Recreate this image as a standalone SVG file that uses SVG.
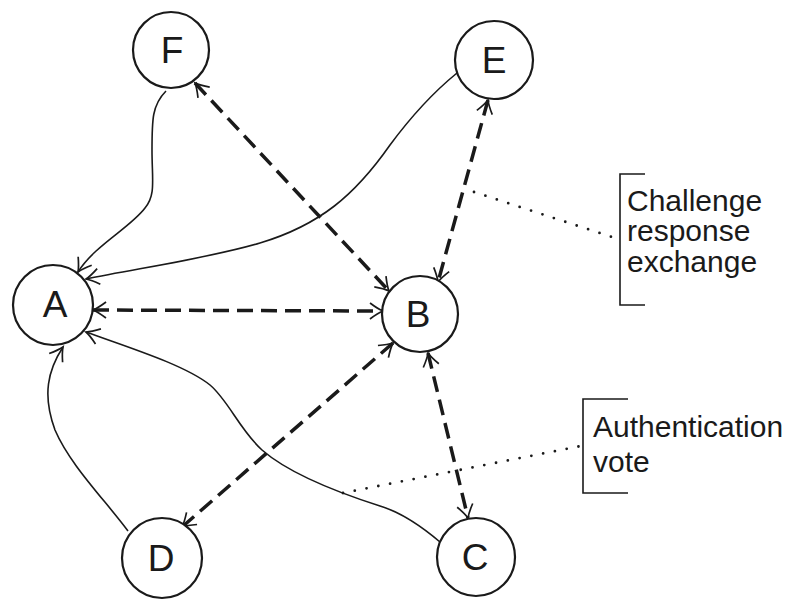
<svg xmlns="http://www.w3.org/2000/svg" width="791" height="600" viewBox="0 0 791 600">
<defs>
<marker id="ah" markerUnits="userSpaceOnUse" markerWidth="30" markerHeight="30" refX="0" refY="0" viewBox="-15 -15 30 30" orient="auto-start-reverse" overflow="visible">
<path d="M-13,-8 Q-5,-2 0,0 Q-5,2 -13,8" fill="none" stroke="#1a1a1a" stroke-width="1.7"/>
</marker>
<style>
.node circle{fill:#fff;stroke:#1a1a1a;stroke-width:2.2}
.node text{font-family:"Liberation Sans",Arial,sans-serif;font-size:37px;fill:#1a1a1a;text-anchor:middle}
.dash{fill:none;stroke:#1a1a1a;stroke-width:3.5;stroke-dasharray:16 8;marker-start:url(#ah);marker-end:url(#ah)}
.curve{fill:none;stroke:#1a1a1a;stroke-width:1.6;marker-end:url(#ah)}
.dot{fill:none;stroke:#1a1a1a;stroke-width:2.8;stroke-linecap:round;stroke-dasharray:0 12}
.br{fill:none;stroke:#1a1a1a;stroke-width:1.6}
.lab{font-family:"Liberation Sans",Arial,sans-serif;font-size:30px;fill:#1a1a1a}
</style>
</defs>
<g id="connectors">
<path class="curve" d="M166,91 C152,105 152,120 152,150 C152,180 156,195 145,208 C130,228 95,245 78,272"/>
<path class="curve" d="M457,73 C430,95 410,118 390,145 C355,195 320,225 260,243 C210,258 140,268 86,279"/>
<path class="curve" d="M128,531 C105,500 70,465 55,430 C42,395 48,370 63,347"/>
<path class="curve" d="M440,542 C420,525 400,512 380,506 C330,490 285,470 262,450 C240,430 228,400 210,385 C185,365 130,348 86,332"/>
<path class="dash" d="M93,310 L383,311"/>
<path class="dash" d="M195,83 L389,291"/>
<path class="dash" d="M488,100 L438,282"/>
<path class="dash" d="M428,353 L468,518"/>
<path class="dash" d="M393,343 L182,527"/>
</g>
<g id="annotations">
<path class="dot" d="M474,192 L612,237"/>
<path class="dot" d="M343,493 L586,445"/>
<path class="br" d="M645,174 H620 V305 H645"/>
<path class="br" d="M628,399 H583 V493 H628"/>
<text class="lab" x="627" y="211">Challenge</text>
<text class="lab" x="627" y="241">response</text>
<text class="lab" x="627" y="272">exchange</text>
<text class="lab" x="593" y="437">Authentication</text>
<text class="lab" x="593" y="472">vote</text>
</g>
<g id="node-F" class="node"><circle cx="171" cy="50" r="38"/><text x="172" y="63">F</text></g>
<g id="node-E" class="node"><circle cx="494" cy="60" r="39"/><text x="494" y="73">E</text></g>
<g id="node-A" class="node"><circle cx="53" cy="305" r="40"/><text x="55" y="317">A</text></g>
<g id="node-B" class="node"><circle cx="420" cy="314" r="38"/><text x="418" y="327">B</text></g>
<g id="node-D" class="node"><circle cx="162" cy="558" r="40"/><text x="161" y="571">D</text></g>
<g id="node-C" class="node"><circle cx="476" cy="557" r="39"/><text x="475" y="570">C</text></g>
</svg>
